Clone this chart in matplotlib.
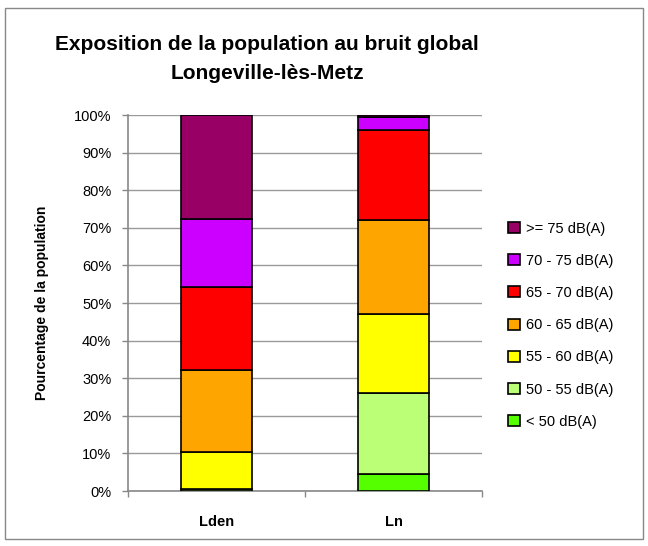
import matplotlib.pyplot as plt
from matplotlib.patches import Rectangle

plt.rcParams['font.family'] = ['Liberation Sans', 'DejaVu Sans']

categories = ["Lden", "Ln"]
classes = ["< 50 dB(A)", "50 - 55 dB(A)", "55 - 60 dB(A)", "60 - 65 dB(A)",
           "65 - 70 dB(A)", "70 - 75 dB(A)", ">= 75 dB(A)"]
# percentage of population per class (bottom -> top)
lden = [0.0, 0.6, 9.7, 21.9, 22.1, 18.0, 27.7]
ln = [4.6, 21.5, 21.0, 25.0, 23.9, 3.5, 0.5]
colors = ["#55ff00", "#bbff77", "#ffff00", "#ffa500", "#ff0000", "#cc00ff", "#990066"]

fig = plt.figure(figsize=(6.48, 5.46), dpi=100)
ax = fig.add_axes([0.1975, 0.1007, 0.5463, 0.6886])

x = list(range(len(categories)))
bottoms = [0.0] * len(categories)
handles = []
for i, cls in enumerate(classes):
    vals = [lden[i], ln[i]]
    bars = ax.bar(x, vals, width=0.4, bottom=bottoms, color=colors[i],
                  edgecolor="black", linewidth=1.2, label=cls, zorder=3)
    handles.append(bars)
    bottoms = [b + v for b, v in zip(bottoms, vals)]

ax.set_xlim(-0.5, 1.5)
ax.set_ylim(0, 100)
ax.set_yticks(range(0, 101, 10))
ax.set_yticklabels([f"{v}%" for v in range(0, 101, 10)], fontsize=10.5)
ax.yaxis.grid(True, color="#9a9a9a", linewidth=1.0, zorder=0)
ax.set_axisbelow(True)

ax.set_xticks(x)
ax.set_xticklabels(categories, fontsize=10.5, fontweight="bold")
ax.set_xticks([-0.5, 0.5, 1.5], minor=True)
ax.tick_params(axis="x", which="major", length=0, pad=17)
ax.tick_params(axis="x", which="minor", length=4, color="#888888", width=1)
ax.tick_params(axis="y", length=4, color="#888888", width=1, pad=8)

for s in ["top", "right"]:
    ax.spines[s].set_visible(False)
for s in ["left", "bottom"]:
    ax.spines[s].set_color("#888888")
    ax.spines[s].set_linewidth(1.2)

ax.set_ylabel("Pourcentage de la population", fontsize=10, fontweight="bold")
ax.yaxis.set_label_coords(-0.222, 0.5)

fig.text(0.412, 0.892, "Exposition de la population au bruit global\nLongeville-lès-Metz",
         ha="center", va="center", fontsize=15, fontweight="bold", linespacing=1.7)

leg = fig.legend(handles[::-1], classes[::-1], loc="upper left",
                 bbox_to_anchor=(0.775, 0.605), frameon=False, fontsize=10.5,
                 handlelength=0.8, handleheight=0.8, handletextpad=0.4,
                 labelspacing=1.25, borderaxespad=0)

# outer chart border
fig.add_artist(Rectangle((0.007, 0.012), 0.986, 0.973, transform=fig.transFigure,
                         fill=False, edgecolor="#888888", linewidth=1.0))

fig.savefig("out.png", dpi=100)
